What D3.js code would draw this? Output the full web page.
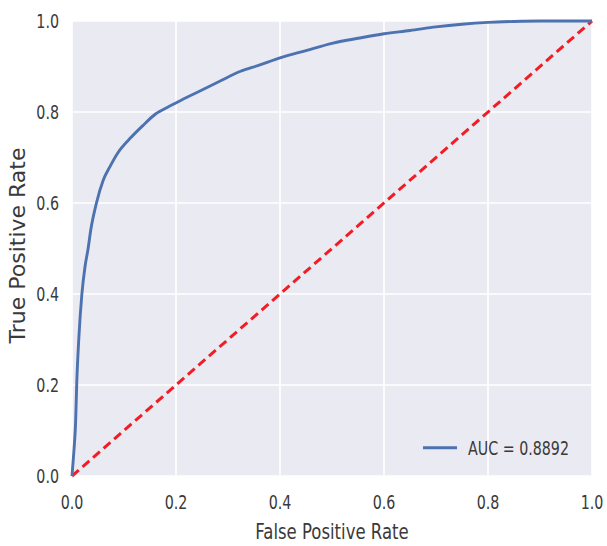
<!DOCTYPE html>
<html>
<head>
<meta charset="utf-8">
<script src="https://cdn.jsdelivr.net/npm/d3@7"></script>
<style>
  body { margin: 0; background: #fff; }
  text { font-family: "DejaVu Sans", sans-serif; fill: #3a3a3a; }
</style>
</head>
<body>
<div id="chart"></div>
<script>
// ROC curve (false positive rate, true positive rate)
const fpr = [0, 0.002, 0.004, 0.007, 0.009, 0.013, 0.019, 0.025, 0.031, 0.036, 0.047, 0.06, 0.073, 0.088,
  0.11, 0.137, 0.16, 0.188, 0.21, 0.246, 0.285, 0.323, 0.36, 0.4, 0.45, 0.5, 0.55, 0.6, 0.65, 0.7,
  0.75, 0.8, 0.85, 0.9, 1.0]
const tpr = [0, 0.03, 0.06, 0.12, 0.2, 0.3, 0.4, 0.46, 0.5, 0.54, 0.6, 0.65, 0.68, 0.71,
  0.74, 0.771, 0.795, 0.813, 0.826, 0.846, 0.868, 0.889, 0.903, 0.919, 0.935, 0.951, 0.962, 0.972, 0.979, 0.987,
  0.993, 0.997, 0.999, 1.0, 1.0]
const chance = [0, 1]
const ticks = [0, 0.2, 0.4, 0.6, 0.8, 1.0]
const aucLabel = "AUC = 0.8892"

const width = 607, height = 546
const margin = { top: 21, right: 15, bottom: 70, left: 72 }
const squeeze = 0.75   // the reference text is narrow

const svg = d3.select("#chart").append("svg")
    .attr("width", width)
    .attr("height", height)

x = d3.scaleLinear().domain([0, 1]).range([margin.left, width - margin.right])
y = d3.scaleLinear().domain([0, 1]).range([height - margin.bottom, margin.top])

function narrow(sel) {
    sel.each(function() {
        const w = this.getComputedTextLength()
        d3.select(this).attr("textLength", w * squeeze).attr("lengthAdjust", "spacingAndGlyphs")
    })
}

svg.append("rect")
    .attr("x", x(0)).attr("y", y(1))
    .attr("width", x(1) - x(0)).attr("height", y(0) - y(1))
    .attr("fill", "#eaeaf2")

// grid
svg.append("g")
    .selectAll("line.gx")
    .data(ticks)
    .join("line")
    .attr("x1", d => x(d)).attr("x2", d => x(d))
    .attr("y1", y(0)).attr("y2", y(1))
    .attr("stroke", "#fff").attr("stroke-width", 1.6)

svg.append("g")
    .selectAll("line.gy")
    .data(ticks)
    .join("line")
    .attr("y1", d => y(d)).attr("y2", d => y(d))
    .attr("x1", x(0)).attr("x2", x(1))
    .attr("stroke", "#fff").attr("stroke-width", 1.6)

// tick labels
svg.append("g")
    .selectAll("text")
    .data(ticks)
    .join("text")
    .attr("x", d => x(d))
    .attr("y", y(0) + 33)
    .attr("text-anchor", "middle")
    .attr("font-size", 19)
    .text(d => d.toFixed(1))
    .call(narrow)

svg.append("g")
    .selectAll("text")
    .data(ticks)
    .join("text")
    .attr("x", x(0) - 13)
    .attr("y", d => y(d) + 7)
    .attr("text-anchor", "end")
    .attr("font-size", 19)
    .text(d => d.toFixed(1))
    .call(narrow)

// axis titles
svg.append("text")
    .attr("x", (x(0) + x(1)) / 2)
    .attr("y", 539)
    .attr("text-anchor", "middle")
    .attr("font-size", 22)
    .text("False Positive Rate")
    .call(narrow)

svg.append("text")
    .attr("transform", `translate(25,${(y(0) + y(1)) / 2 - 3}) rotate(-90)`)
    .attr("text-anchor", "middle")
    .attr("font-size", 22)
    .text("True Positive Rate")

// chance line
svg.append("path")
    .attr("d", d3.line().x(d => x(d)).y(d => y(d))(chance))
    .attr("fill", "none")
    .attr("stroke", "#f21d24")
    .attr("stroke-width", 3)
    .attr("stroke-dasharray", "9,5")

// ROC curve
const roc = fpr.map((f, i) => [f, tpr[i]])
svg.append("path")
    .attr("d", d3.line().x(d => x(d[0])).y(d => y(d[1])).curve(d3.curveMonotoneX)(roc))
    .attr("fill", "none")
    .attr("stroke", "#4c72b0")
    .attr("stroke-width", 2.9)

// legend
const lg = svg.append("g").attr("transform", `translate(${x(0.675)},${y(0.062)})`)
lg.append("line")
    .attr("x1", 0).attr("x2", 34)
    .attr("stroke", "#4c72b0").attr("stroke-width", 2.9)
lg.append("text")
    .attr("x", 45).attr("y", 7)
    .attr("font-size", 19)
    .text(aucLabel)
    .call(narrow)
</script>
</body>
</html>
